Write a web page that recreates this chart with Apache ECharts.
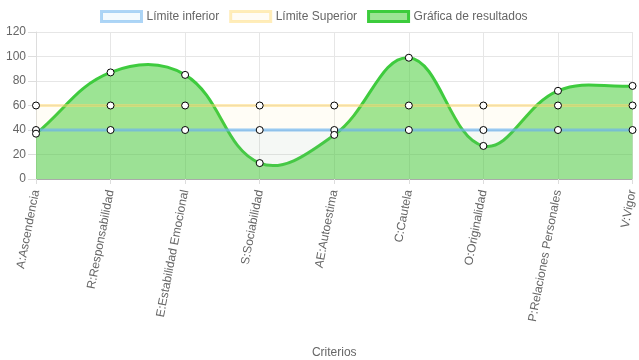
<!DOCTYPE html>
<html><head><meta charset="utf-8">
<script src="https://cdn.jsdelivr.net/npm/echarts@6/dist/echarts.min.js"></script>
<style>html,body{margin:0;padding:0;background:#fff}#c{width:639px;height:360px}</style>
</head><body><div id="c"></div>
<script>
var categories = ["A:Ascendencia","R:Responsabilidad","E:Estabilidad Emocional","S:Sociabilidad","AE:Autoestima","C:Cautela","O:Originalidad","P:Relaciones Personales","V:Vigor"];
var limiteInferior = [40,40,40,40,40,40,40,40,40];
var limiteSuperior = [60,60,60,60,60,60,60,60,60];
var resultados = [37,87,85,13,36,99,27,72,76];
var yTicks = {min:0, max:120, interval:20};

var font = 'Liberation Sans, Arial, sans-serif';
var sym = {color:'#fff', borderColor:'#000', borderWidth:1};
var TENSION = 0.4;

// Cardinal spline through points obtained from the chart's own scales (api.coord)
function splinePath(api, values) {
  var pts = values.map(function (v, i) { return api.coord([i, v]); });
  var n = pts.length, cps = [];
  for (var i = 0; i < n; i++) {
    var p = pts[Math.max(0, i - 1)], c = pts[i], nx = pts[Math.min(n - 1, i + 1)];
    var d01 = Math.hypot(c[0] - p[0], c[1] - p[1]);
    var d12 = Math.hypot(nx[0] - c[0], nx[1] - c[1]);
    var s01 = d01 / (d01 + d12) || 0, s12 = d12 / (d01 + d12) || 0;
    var fa = TENSION * s01, fb = TENSION * s12;
    cps.push({
      prev: [c[0] - fa * (nx[0] - p[0]), c[1] - fa * (nx[1] - p[1])],
      next: [c[0] + fb * (nx[0] - p[0]), c[1] + fb * (nx[1] - p[1])]
    });
  }
  var d = 'M' + pts[0][0] + ' ' + pts[0][1];
  for (var j = 1; j < n; j++) {
    d += ' C' + cps[j - 1].next[0] + ' ' + cps[j - 1].next[1] + ' ' +
         cps[j].prev[0] + ' ' + cps[j].prev[1] + ' ' + pts[j][0] + ' ' + pts[j][1];
  }
  return {d: d, pts: pts};
}

var chart = echarts.init(document.getElementById('c'), null, {renderer:'canvas'});
chart.setOption({
  animation:false,
  textStyle:{fontFamily:font},
  legend:{
    top:5, left:95, itemWidth:40, itemHeight:10, itemGap:10,
    textStyle:{color:'#666', fontSize:12, fontFamily:font},
    data:[
      {name:'Límite inferior', icon:'rect', itemStyle:{color:'rgba(54,162,235,0.06)', borderColor:'rgba(120,185,240,0.6)', borderWidth:3}},
      {name:'Límite Superior', icon:'rect', itemStyle:{color:'rgba(255,206,86,0.06)', borderColor:'rgba(255,225,140,0.6)', borderWidth:3}},
      {name:'Gráfica de resultados', icon:'rect', itemStyle:{color:'rgba(75,205,60,0.55)', borderColor:'#3ccc3c', borderWidth:3}}
    ]
  },
  grid:{left:36, right:4, top:32, bottom:180, containLabel:false},
  xAxis:{
    type:'category', data:categories, boundaryGap:false,
    name:'Criterios', nameLocation:'middle', nameGap:168,
    nameTextStyle:{color:'#666', fontSize:12, fontFamily:font},
    axisLine:{lineStyle:{color:'#aaa'}},
    axisTick:{show:true, length:5, lineStyle:{color:'#ddd'}},
    axisLabel:{rotate:79, color:'#666', fontSize:12, fontFamily:font, margin:11},
    splitLine:{show:true, lineStyle:{color:'#e6e6e6'}}
  },
  yAxis:{
    type:'value', min:yTicks.min, max:yTicks.max, interval:yTicks.interval,
    axisLine:{show:true, lineStyle:{color:'#ddd'}},
    axisTick:{show:true, length:8, lineStyle:{color:'#ddd'}},
    axisLabel:{color:'#666', fontSize:12, fontFamily:font, margin:10},
    splitLine:{lineStyle:{color:'#e6e6e6'}}
  },
  series:[
    {name:'Gráfica de resultados', type:'custom', z:1, silent:true,
     data:resultados.map(function (v, i) { return [i, v]; }),
     encode:{x:0, y:1},
     renderItem:function (params, api) {
       if (params.dataIndex !== 0) return null;
       var sp = splinePath(api, resultados);
       var base = api.coord([0, 0])[1];
       var last = sp.pts[sp.pts.length - 1], first = sp.pts[0];
       var area = sp.d + ' L' + last[0] + ' ' + base + ' L' + first[0] + ' ' + base + ' Z';
       return {type:'group', children:[
         {type:'path', shape:{pathData:area}, style:{fill:'rgba(75,205,60,0.55)', stroke:null}},
         {type:'path', shape:{pathData:sp.d}, style:{fill:null, stroke:'#3ecb3e', lineWidth:3}}
       ]};
     }},
    {name:'Límite inferior', type:'line', data:limiteInferior, z:3,
     lineStyle:{color:'rgba(110,180,240,0.7)', width:3},
     areaStyle:{color:'rgba(54,162,235,0.07)', origin:'start'},
     symbol:'circle', symbolSize:7, itemStyle:sym, showAllSymbol:true},
    {name:'Límite Superior', type:'line', data:limiteSuperior, z:3,
     lineStyle:{color:'rgba(255,215,110,0.5)', width:3},
     areaStyle:{color:'rgba(255,206,86,0.07)', origin:'start'},
     symbol:'circle', symbolSize:7, itemStyle:sym, showAllSymbol:true},
    {name:'Gráfica de resultados', type:'line', data:resultados, z:4,
     lineStyle:{width:0, opacity:0},
     symbol:'circle', symbolSize:7, itemStyle:sym, showAllSymbol:true}
  ]
});
</script></body></html>
